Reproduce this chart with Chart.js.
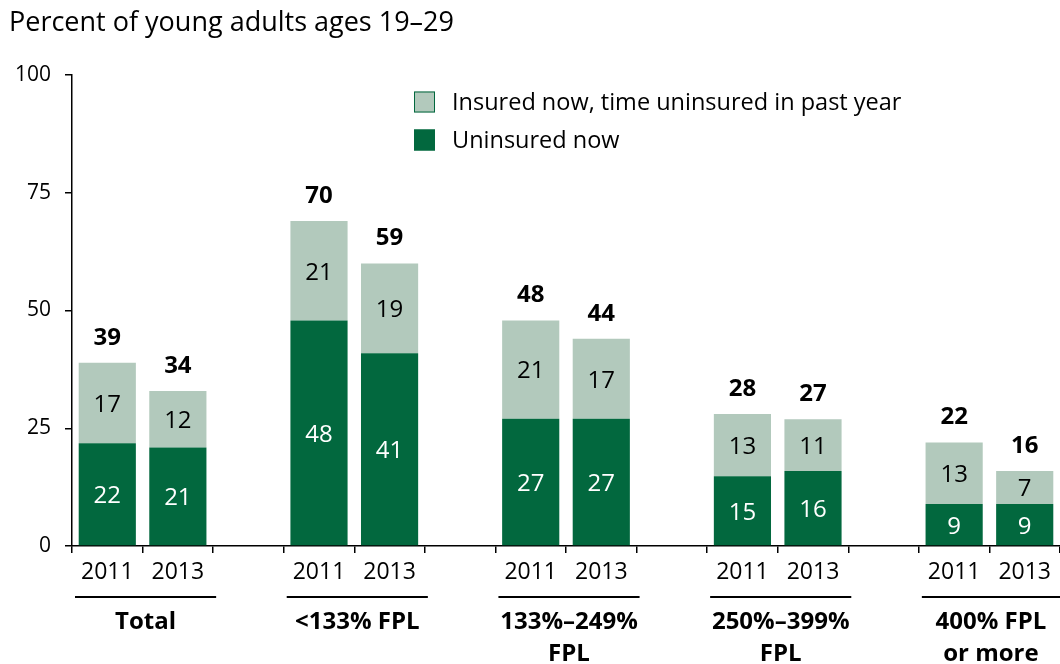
<!DOCTYPE html>
<html lang="en">
<head>
<meta charset="UTF-8">
<title>Young adults uninsured</title>
<script src="https://cdn.jsdelivr.net/npm/chart.js@4.4.1/dist/chart.umd.min.js"></script>
<style>
    body { margin: 0; background: #fff; }
    #wrap { width: 1060px; height: 664px; position: relative; }
</style>
</head>
<body>
<div id="wrap"><canvas id="myChart"></canvas></div>
<script>
    // slots: 2011, 2013, gap for each income group
    var years = ['2011', '2013', '', '2011', '2013', '', '2011', '2013', '', '2011', '2013', '', '2011', '2013'];
    var uninsuredNow = [21.8, 20.9, null, 47.9, 40.9, null, 27, 27, null, 14.8, 15.9, null, 8.9, 8.9];
    var insuredGap = [17.1, 12, null, 21.1, 19.1, null, 20.9, 17, null, 13.2, 11, null, 13.1, 7];
    var totals = [39, 34, null, 70, 59, null, 48, 44, null, 28, 27, null, 22, 16];
    var groups = [['Total'], ['<133% FPL'], ['133%\u2013249%', 'FPL'], ['250%\u2013399%', 'FPL'], ['400% FPL', 'or more']];
    var yTicks = [0, 25, 50, 75, 100];

    var darkGreen = '#02683e';
    var lightGreen = '#b2c9bc';
    var fontFam = '"Open Sans"';

    Chart.defaults.font.family = fontFam;
    Chart.defaults.color = '#000';

    var extras = {
        id: 'extras',
        afterDraw: function (chart) {
            var ctx = chart.ctx;
            var xs = chart.scales.x;
            var slot = xs.width / years.length;
            ctx.save();
            ctx.fillStyle = '#000';

            // title
            ctx.font = '27px ' + fontFam;
            ctx.textAlign = 'left';
            ctx.textBaseline = 'alphabetic';
            ctx.fillText('Percent of young adults ages 19\u201329', 9, 31);

            // values inside segments
            ctx.font = '24px ' + fontFam;
            ctx.textAlign = 'center';
            ctx.textBaseline = 'middle';
            [0, 1].forEach(function (d) {
                var meta = chart.getDatasetMeta(d);
                var vals = chart.data.datasets[d].data;
                meta.data.forEach(function (bar, i) {
                    if (vals[i] == null) return;
                    ctx.fillStyle = d === 0 ? '#fff' : '#000';
                    ctx.fillText(Math.round(vals[i]), bar.x, (bar.y + bar.base) / 2 + 2);
                });
            });

            // totals on top
            ctx.font = 'bold 24px ' + fontFam;
            ctx.fillStyle = '#000';
            var tops = chart.getDatasetMeta(1).data;
            totals.forEach(function (t, i) {
                if (t == null) return;
                ctx.fillText(t, tops[i].x, tops[i].y - 25);
            });

            // group lines and names
            ctx.strokeStyle = '#000';
            ctx.lineWidth = 2;
            groups.forEach(function (g, k) {
                var x0 = xs.getPixelForValue(k * 3) - slot / 2 + 3;
                var x1 = Math.min(xs.getPixelForValue(k * 3 + 1) + slot / 2 + 3, chart.width);
                ctx.beginPath();
                ctx.moveTo(x0, 597);
                ctx.lineTo(x1, 597);
                ctx.stroke();
                var cx = (x0 + x1) / 2;
                g.forEach(function (line, n) {
                    ctx.fillText(line, cx, 622 + n * 32);
                });
            });

            // legend
            var items = [
                {text: 'Insured now, time uninsured in past year', fill: lightGreen, y: 102},
                {text: 'Uninsured now', fill: darkGreen, y: 140}
            ];
            ctx.font = '23.5px ' + fontFam;
            ctx.textAlign = 'left';
            items.forEach(function (it) {
                ctx.fillStyle = it.fill;
                ctx.fillRect(414, it.y - 10.5, 21, 21);
                ctx.strokeStyle = darkGreen;
                ctx.lineWidth = 1;
                ctx.strokeRect(414.5, it.y - 10, 20, 20);
                ctx.fillStyle = '#000';
                ctx.fillText(it.text, 452, it.y + 1);
            });
            ctx.restore();
        }
    };

    var ctx = document.querySelector('#myChart').getContext('2d');
    new Chart(ctx, {
        type: 'bar',
        data: {
            labels: years,
            datasets: [{
                label: 'Uninsured now',
                data: uninsuredNow,
                backgroundColor: darkGreen,
                barPercentage: 0.81,
                categoryPercentage: 1.0
            }, {
                label: 'Insured now, time uninsured in past year',
                data: insuredGap,
                backgroundColor: lightGreen,
                barPercentage: 0.81,
                categoryPercentage: 1.0
            }]
        },
        options: {
            responsive: true,
            maintainAspectRatio: false,
            devicePixelRatio: 1,
            animation: false,
            layout: {padding: {top: 75, left: 0, right: 0, bottom: 0}},
            plugins: {legend: {display: false}, tooltip: {enabled: false}},
            scales: {
                x: {
                    stacked: true,
                    grid: {offset: true, drawOnChartArea: false, color: '#000', tickLength: 7, lineWidth: 1.5},
                    border: {color: '#000', width: 1.5},
                    ticks: {color: '#000', font: {size: 23}, padding: 6, maxRotation: 0, autoSkip: false},
                    afterFit: function (s) { s.height = 118; }
                },
                y: {
                    stacked: true,
                    min: 0,
                    max: 100,
                    afterBuildTicks: function (s) {
                        s.ticks = yTicks.map(function (v) { return {value: v}; });
                    },
                    grid: {drawOnChartArea: false, color: '#000', tickLength: 7, lineWidth: 1.5},
                    border: {color: '#000', width: 1.5},
                    ticks: {color: '#000', font: {size: 21}, padding: 14},
                    afterFit: function (s) { s.width = 72; }
                }
            }
        },
        plugins: [extras]
    });
</script>
</body>
</html>
